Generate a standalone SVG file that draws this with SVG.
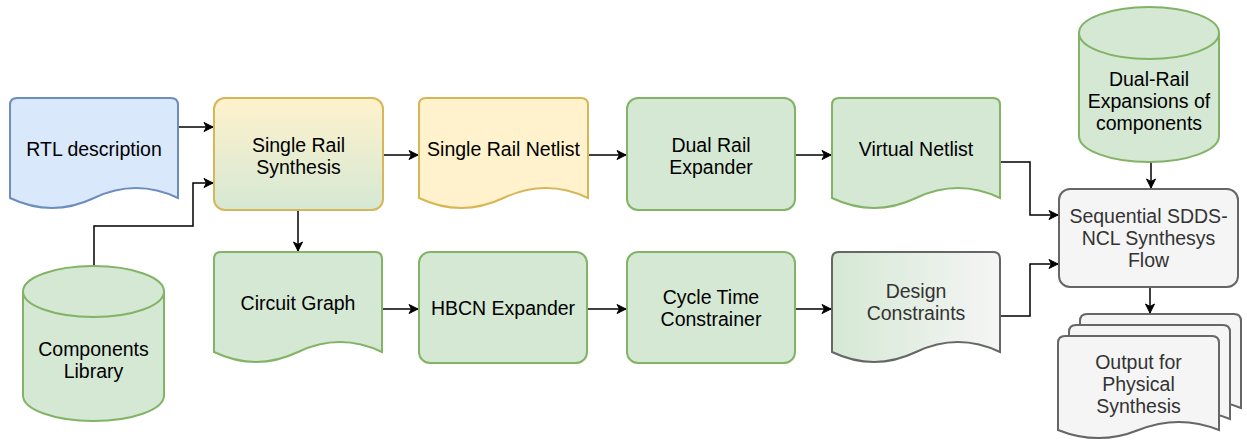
<svg xmlns="http://www.w3.org/2000/svg" width="1247" height="441" viewBox="0 0 1247 441">
<style>
.t{font-family:"Liberation Sans",Arial,Helvetica,sans-serif;font-size:19.5px;fill:#000;text-anchor:middle}
.g{fill:#333}
.blue{fill:#dae8fc;stroke:#6c8ebf;stroke-width:2}
.yel{fill:#fff2cc;stroke:#d6b656;stroke-width:2}
.grn{fill:#d5e8d4;stroke:#82b366;stroke-width:2}
.gry{fill:#f5f5f5;stroke:#666;stroke-width:2}
.c{fill:none;stroke:#000;stroke-width:1.5;marker-end:url(#ar)}
</style>
<defs>
<marker id="ar" markerUnits="userSpaceOnUse" markerWidth="12" markerHeight="12" viewBox="-10 -6 12 12" refX="0" refY="0" orient="auto">
<path d="M-9,-4.5 L0,0 L-9,4.5 L-6.5,0 Z" fill="#000" stroke="#000" stroke-width="1"/>
</marker>
<linearGradient id="gy" x1="0" y1="0" x2="0" y2="1"><stop offset="0" stop-color="#fff2cc"/><stop offset="1" stop-color="#d5e8d4"/></linearGradient>
<linearGradient id="gh" x1="0" y1="0" x2="1" y2="0"><stop offset="0" stop-color="#d5e8d4"/><stop offset="1" stop-color="#f5f5f5"/></linearGradient>
</defs>

<g id="connectors">
<path class="c" d="M178,127 H213"/>
<path class="c" d="M94,266 V226 H193 V183 H213"/>
<path class="c" d="M383,155 H418"/>
<path class="c" d="M588,155 H626"/>
<path class="c" d="M795,155 H831"/>
<path class="c" d="M1000,162 H1030 V215 H1058"/>
<path class="c" d="M1000,316 H1030 V264 H1058"/>
<path class="c" d="M1151,162 V188"/>
<path class="c" d="M1150,287 V313"/>
<path class="c" d="M298,210 V251"/>
<path class="c" d="M382,309 H418"/>
<path class="c" d="M587,309 H626"/>
<path class="c" d="M795,309 H831"/>
</g>

<g id="rtl">
<path class="blue" d="M10,198 V105 Q10,98 17,98 H171 Q178,98 178,105 V198 Q136,178 94,198 Q52,218 10,198 Z"/>
<text class="t" x="94" y="156">RTL description</text>
</g>

<g id="srs">
<rect x="214" y="98" width="169" height="112" rx="11" fill="url(#gy)" stroke="#d6b656" stroke-width="2"/>
<text class="t" x="298.5" y="151.5">Single Rail</text>
<text class="t" x="298.5" y="173.5">Synthesis</text>
</g>

<g id="srn">
<path class="yel" d="M419,198 V105 Q419,98 426,98 H581 Q588,98 588,105 V198 Q546,178 503.5,198 Q461,218 419,198 Z"/>
<text class="t" x="503.5" y="156">Single Rail Netlist</text>
</g>

<g id="dre">
<rect class="grn" x="627" y="98" width="168" height="112" rx="11"/>
<text class="t" x="711" y="151.5">Dual Rail</text>
<text class="t" x="711" y="173.5">Expander</text>
</g>

<g id="vn">
<path class="grn" d="M832,198 V105 Q832,98 839,98 H993 Q1000,98 1000,105 V198 Q958,178 916,198 Q874,218 832,198 Z"/>
<text class="t" x="916" y="156">Virtual Netlist</text>
</g>

<g id="complib">
<path class="grn" d="M23,291.5 A70.5,25.5 0 0 1 164,291.5 V395.5 A70.5,25.5 0 0 1 23,395.5 Z"/>
<path fill="none" stroke="#82b366" stroke-width="2" d="M23,291.5 A70.5,25.5 0 0 0 164,291.5"/>
<text class="t" x="93.5" y="355.5">Components</text>
<text class="t" x="93.5" y="377.5">Library</text>
</g>

<g id="cg">
<path class="grn" d="M214,352 V259 Q214,252 221,252 H375 Q382,252 382,259 V352 Q340,332 298,352 Q256,372 214,352 Z"/>
<text class="t" x="298" y="309.5">Circuit Graph</text>
</g>

<g id="hbcn">
<rect class="grn" x="419" y="252" width="168" height="111" rx="11"/>
<text class="t" x="503" y="314.5">HBCN Expander</text>
</g>

<g id="ctc">
<rect class="grn" x="627" y="252" width="168" height="111" rx="11"/>
<text class="t" x="711" y="304">Cycle Time</text>
<text class="t" x="711" y="326">Constrainer</text>
</g>

<g id="dc">
<path d="M832,352 V259 Q832,252 839,252 H993 Q1000,252 1000,259 V352 Q958,332 916,352 Q874,372 832,352 Z" fill="url(#gh)" stroke="#666" stroke-width="2"/>
<text class="t g" x="916" y="297.5">Design</text>
<text class="t g" x="916" y="319.5">Constraints</text>
</g>

<g id="dualrail">
<path class="grn" d="M1079,33 A70,26 0 0 1 1219,33 V136 A70,26 0 0 1 1079,136 Z"/>
<path fill="none" stroke="#82b366" stroke-width="2" d="M1079,33 A70,26 0 0 0 1219,33"/>
<text class="t" x="1149" y="86">Dual-Rail</text>
<text class="t" x="1149" y="108">Expansions of</text>
<text class="t" x="1149" y="130">components</text>
</g>

<g id="seq">
<rect class="gry" x="1059" y="189" width="179" height="98" rx="11"/>
<text class="t g" x="1148.5" y="223">Sequential SDDS-</text>
<text class="t g" x="1148.5" y="245">NCL Synthesys</text>
<text class="t g" x="1148.5" y="267">Flow</text>
</g>

<g id="output">
<path class="gry" d="M1080,408 V321 Q1080,314 1087,314 H1234 Q1241,314 1241,321 V408 Q1200.75,391.8 1160.5,408 Q1120.25,424.2 1080,408 Z"/>
<path class="gry" d="M1069,419 V332 Q1069,325 1076,325 H1223 Q1230,325 1230,332 V419 Q1189.75,402.8 1149.5,419 Q1109.25,435.2 1069,419 Z"/>
<path class="gry" d="M1058,430 V343 Q1058,336 1065,336 H1212 Q1219,336 1219,343 V430 Q1178.75,413.8 1138.5,430 Q1098.25,446.2 1058,430 Z"/>
<text class="t g" x="1138.5" y="368.5">Output for</text>
<text class="t g" x="1138.5" y="390.5">Physical</text>
<text class="t g" x="1138.5" y="412.5">Synthesis</text>
</g>
</svg>
